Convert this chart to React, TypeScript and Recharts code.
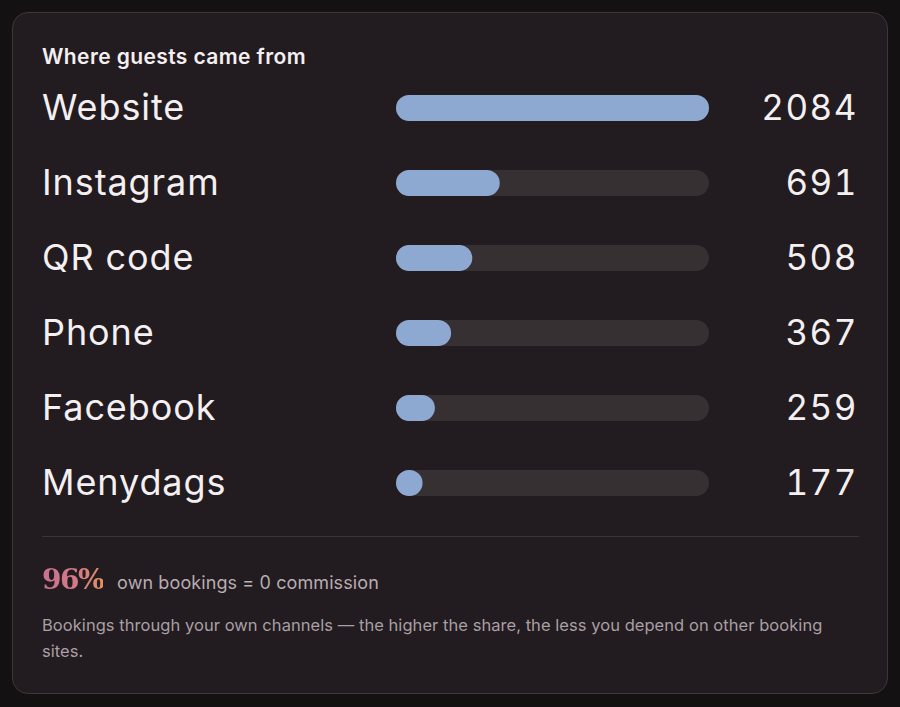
import { BarChart, Bar, XAxis, YAxis } from "recharts";

const channels = ["Website", "Instagram", "QR code", "Phone", "Facebook", "Menydags"];
const bookings = [2084, 691, 508, 367, 259, 177];
const ownShare = "96%";

const data = channels.map((name, i) => ({ name, value: bookings[i] }));

function LabelTick(props: any) {
  const { x, y, payload, width } = props;
  return (
    <text
      x={x - width}
      y={y}
      dy={12}
      textAnchor="start"
      fill="#f4eff1"
      fontSize={36}
      letterSpacing={0.9}
      fontFamily="Inter, sans-serif"
    >
      {payload.value}
    </text>
  );
}

function ValueTick(props: any) {
  const { x, y, payload } = props;
  return (
    <text
      x={x + 149}
      y={y}
      dy={12}
      textAnchor="end"
      fill="#f4eff1"
      fontSize={35}
      letterSpacing={1.5}
      fontFamily="Inter, sans-serif"
      style={{ fontFeatureSettings: "'tnum'" }}
    >
      {payload.value}
    </text>
  );
}

export default function App() {
  return (
    <div
      style={{
        position: "absolute",
        left: 0,
        top: 0,
        width: 900,
        height: 707,
        background: "#141112",
        fontFamily: "Inter, sans-serif",
      }}
    >
      <div
        style={{
          position: "absolute",
          left: 12,
          top: 12,
          width: 874,
          height: 680,
          background: "#221b1f",
          border: "1px solid #3d373a",
          borderRadius: 16,
        }}
      >
        <div
          style={{
            position: "absolute",
            left: 29,
            top: 31,
            fontSize: 21,
            fontWeight: 600,
            letterSpacing: 0.4,
            color: "#f4eff1",
          }}
        >
          Where guests came from
        </div>
        <div style={{ position: "absolute", left: 29, top: 57 }}>
          <BarChart
            width={817}
            height={450}
            layout="vertical"
            data={data}
            margin={{ top: 0, right: 0, bottom: 0, left: 0 }}
            barSize={26}
          >
            <XAxis type="number" domain={[0, bookings[0]]} hide />
            <YAxis
              yAxisId="left"
              type="category"
              dataKey="name"
              width={354}
              axisLine={false}
              tickLine={false}
              tickSize={0}
              tickMargin={0}
              tick={<LabelTick />}
            />
            <YAxis
              yAxisId="right"
              orientation="right"
              type="category"
              dataKey="value"
              width={150}
              axisLine={false}
              tickLine={false}
              tickSize={0}
              tickMargin={0}
              tick={<ValueTick />}
            />
            <Bar
              yAxisId="left"
              dataKey="value"
              fill="#8da8d1"
              radius={13}
              background={{ fill: "#363032", radius: 13 }}
              isAnimationActive={false}
            />
          </BarChart>
        </div>
        <div
          style={{
            position: "absolute",
            left: 29,
            top: 523,
            width: 817,
            height: 1,
            background: "#3a3437",
          }}
        />
        <div
          style={{
            position: "absolute",
            left: 29,
            top: 550,
            display: "flex",
            alignItems: "baseline",
            gap: 14,
          }}
        >
          <span
            style={{
              fontFamily: "'DejaVu Serif', serif",
              fontWeight: 700,
              fontSize: 28,
              letterSpacing: -1.5,
              background: "linear-gradient(90deg, #c9728f 0%, #d47a86 60%, #e39160 100%)",
              WebkitBackgroundClip: "text",
              backgroundClip: "text",
              color: "transparent",
            }}
          >
            {ownShare}
          </span>
          <span style={{ fontSize: 18, letterSpacing: 0.1, color: "#b7adb2" }}>
            own bookings = 0 commission
          </span>
        </div>
        <div
          style={{
            position: "absolute",
            left: 29,
            top: 599,
            width: 805,
            fontSize: 16.5,
            letterSpacing: 0.05,
            lineHeight: "26px",
            color: "#a99fa4",
          }}
        >
          Bookings through your own channels — the higher the share, the less you depend on other booking sites.
        </div>
      </div>
    </div>
  );
}
